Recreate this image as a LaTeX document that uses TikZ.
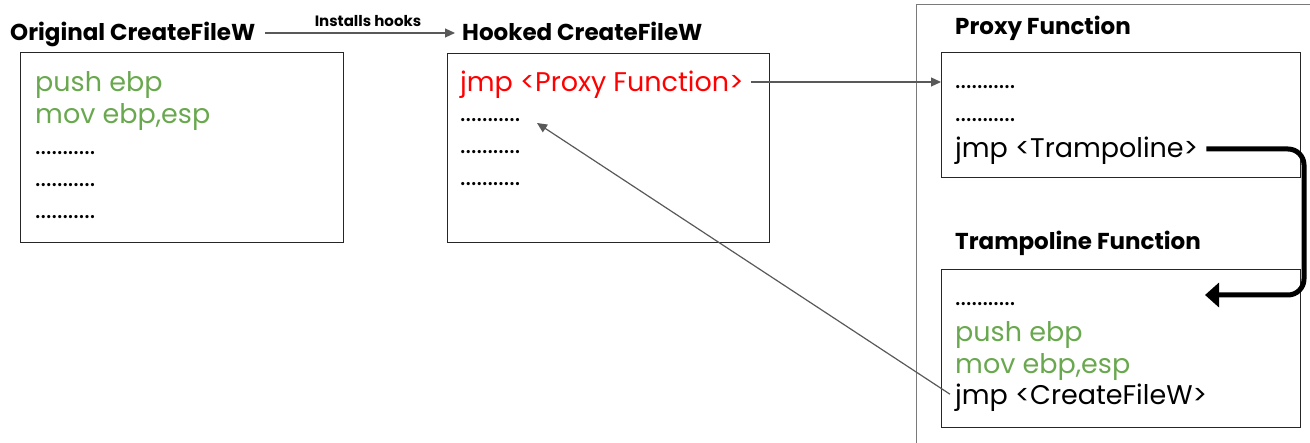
\documentclass[tikz,border=0pt]{standalone}
\usepackage{fontspec}
\setmainfont{Poppins}
\usetikzlibrary{arrows.meta,positioning}
\definecolor{codegreen}{HTML}{6AA84F}
\definecolor{codered}{HTML}{FF0000}
\definecolor{linegray}{HTML}{595959}
\tikzset{
  box/.style={draw=black!85, line width=1.3pt, anchor=north west, inner sep=0pt},
  heading/.style={font=\fontsize{23}{27}\selectfont\bfseries, anchor=base west, inner sep=0pt},
  code/.style={font=\fontsize{27}{31}\selectfont, anchor=base west, inner sep=0pt},
  dots/.style={font=\fontsize{26}{30}\selectfont, anchor=base west, inner sep=0pt},
  conn/.style={draw=linegray, line width=1.2pt, -{Triangle[length=10pt,width=9pt]}},
  bigconn/.style={draw=black, line width=5pt, rounded corners=16pt, -{Triangle[length=14pt,width=24pt]}},
}
\begin{document}
\begin{tikzpicture}[x=1pt,y=-1pt]
\useasboundingbox (0,0) rectangle (1310,443);
% outer frame (partly outside picture)
\draw[draw=linegray!80, line width=1.2pt] (916.5,443) -- (916.5,4.5) -- (1310,4.5);

% Original
\node[heading] (ho) at (10,41) {Original CreateFileW};
\node[box, minimum width=323pt, minimum height=190pt] (b1) at (20,52) {};
\node[code, text=codegreen] (o1) at (35,92) {push ebp};
\node[code, text=codegreen] (o2) at (35,124) {mov ebp,esp};
\node[dots] (o3) at (35,155) {...........};
\node[dots] (o4) at (35,187) {...........};
\node[dots] (o5) at (35,219) {...........};

% Hooked
\node[heading] (hh) at (462,41) {Hooked CreateFileW};
\node[box, minimum width=322pt, minimum height=189pt] (b2) at (447,53) {};
\node[code, text=codered] (jp) at (460,92) {jmp <Proxy Function>};
\node[dots] (h1) at (460,122) {...........};
\node[dots] (h2) at (460,154) {...........};
\node[dots] (h3) at (460,186) {...........};

% Proxy
\node[heading] (hp) at (955,35) {Proxy Function};
\node[box, minimum width=359pt, minimum height=125pt] (pbox) at (941,52) {};
\node[dots] (p1) at (955,89) {...........};
\node[dots] (p2) at (955,122) {...........};
\node[code] (jt) at (955,158) {jmp <Trampoline>};

% Trampoline
\node[heading] (ht) at (955,250) {Trampoline Function};
\node[box, minimum width=359pt, minimum height=158pt] (tbox) at (941,269) {};
\node[dots] (t1) at (955,306) {...........};
\node[code, text=codegreen] (t2) at (955,342) {push ebp};
\node[code, text=codegreen] (t3) at (955,374) {mov ebp,esp};
\node[code] (jc) at (955,405) {jmp <CreateFileW>};

% connectors
\coordinate (c1s) at ([xshift=10pt]ho.east |- 0,33);
\coordinate (c1e) at ([xshift=-7pt]hh.west |- 0,33);
\draw[conn] (c1s) -- (c1e);
\node[font=\fontsize{15}{18}\selectfont\bfseries, inner sep=0pt] (lbl) at (368,21) {Installs hooks};
\coordinate (c2s) at ([xshift=7pt]jp.east |- 0,82);
\draw[conn] (c2s) -- (c2s -| pbox.west);
\coordinate (c3s) at ([xshift=-5pt,yshift=4pt]jc.west);
\coordinate (c3e) at (537,123);
\draw[conn] (c3s) -- (c3e);
\coordinate (c4s) at ([xshift=8pt]jt.east |- 0,149);
\draw[bigconn] (c4s) -| (1304,295) -- (1205,295);
\end{tikzpicture}
\end{document}
